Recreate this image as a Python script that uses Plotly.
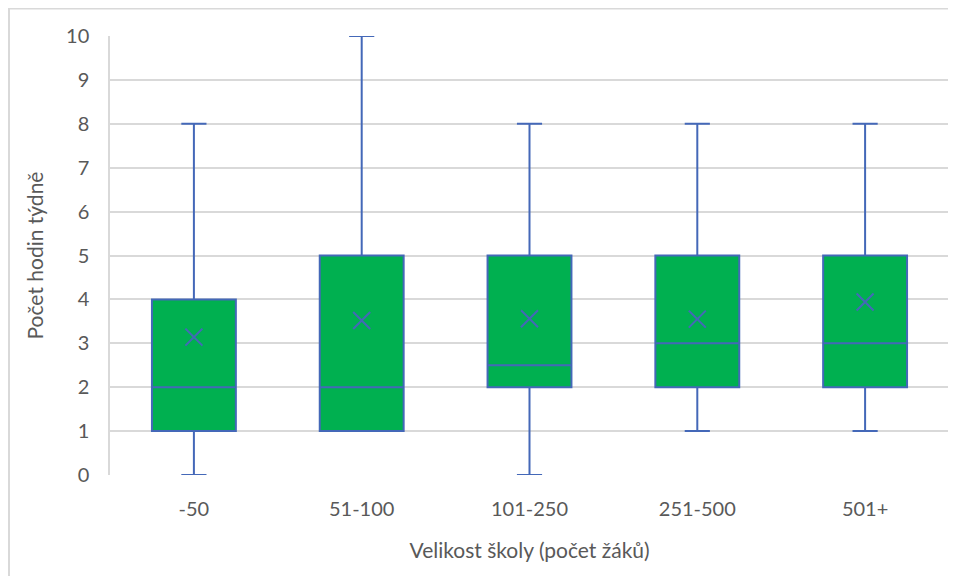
import plotly.graph_objects as go

categories = ["-50", "51-100", "101-250", "251-500", "501+"]
minimum = [0, 1, 0, 1, 1]
q1 = [1, 1, 2, 2, 2]
median = [2, 2, 2.5, 3, 3]
q3 = [4, 5, 5, 5, 5]
maximum = [8, 10, 8, 8, 8]
mean = [3.14, 3.52, 3.56, 3.55, 3.94]
y_ticks = list(range(0, 11))

BLUE = "#4468B8"
GREEN = "#00B050"
TXT = "#595959"
GRID = "#D9D9D9"
FONT = "Lato, 'Open Sans', sans-serif"

fig = go.Figure()
fig.add_trace(go.Box(
    x=categories, q1=q1, median=median, q3=q3,
    lowerfence=minimum, upperfence=maximum,
    fillcolor=GREEN, line=dict(color=BLUE, width=2),
    whiskerwidth=0.3, width=0.5, boxpoints=False, showlegend=False,
    hoverinfo="skip",
))
fig.add_trace(go.Scatter(
    x=categories, y=mean, mode="markers",
    marker=dict(symbol="x-thin", size=17, line=dict(color=BLUE, width=2), color=BLUE),
    showlegend=False, hoverinfo="skip",
))

fig.update_layout(
    width=948, height=568,
    margin=dict(l=102, r=7, t=28, b=101),
    paper_bgcolor="white", plot_bgcolor="white",
    font=dict(family=FONT, size=21, color=TXT),
    xaxis=dict(
        type="category", showgrid=False, zeroline=False, showline=False,
        ticks="", ticklabelstandoff=20, tickfont=dict(size=20, color=TXT),
        title=dict(text="Velikost školy (počet žáků)", font=dict(size=21, color=TXT), standoff=24),
    ),
    yaxis=dict(
        range=[0, 10], tickvals=y_ticks, showgrid=True, gridcolor=GRID, gridwidth=1.5,
        zeroline=False, showline=True, linecolor=GRID, linewidth=1.5, mirror=False,
        ticks="", ticklabelstandoff=15, tickfont=dict(size=20, color=TXT),
        title=dict(text="Počet hodin týdně", font=dict(size=21, color=TXT), standoff=17),
    ),
    shapes=[
        dict(type="line", xref="paper", yref="paper", x0=-0.1216, x1=1.01, y0=1.0628, y1=1.0628,
             line=dict(color=GRID, width=2)),
        dict(type="line", xref="paper", yref="paper", x0=-0.1204, x1=-0.1204, y0=1.0638, y1=-0.25,
             line=dict(color=GRID, width=2)),
    ],
)

fig.write_html("out.html")
